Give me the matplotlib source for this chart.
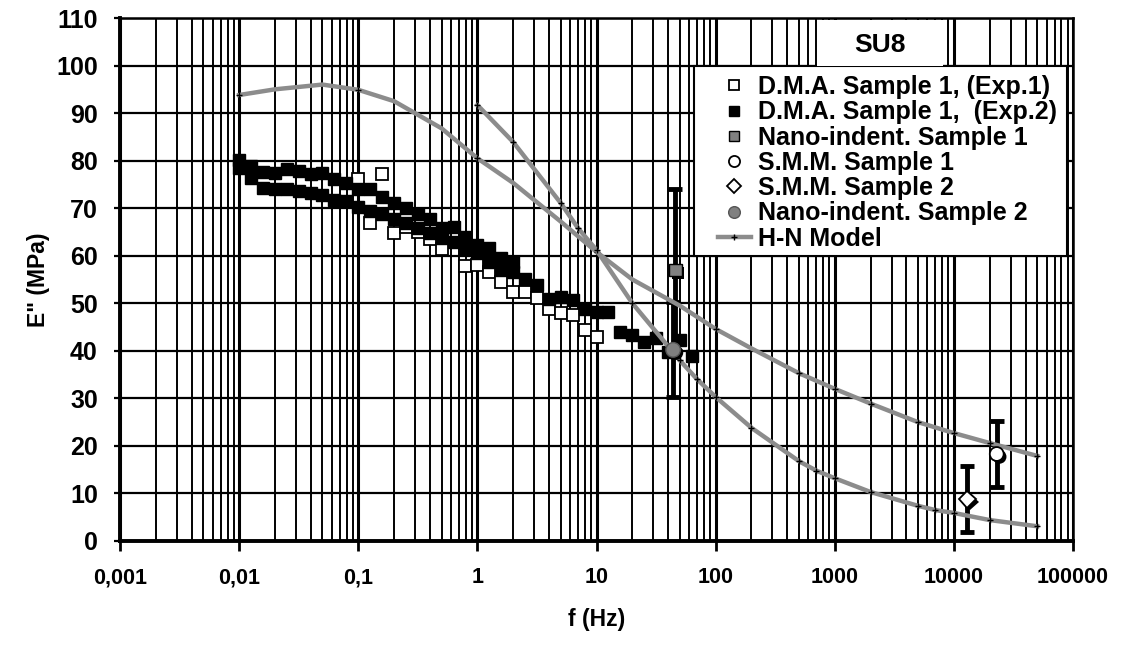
import matplotlib
matplotlib.use("Agg")
import matplotlib.pyplot as plt
import matplotlib.patheffects as pe
from matplotlib.patches import Rectangle
from matplotlib.ticker import FixedLocator, FixedFormatter, LogLocator, NullFormatter

plt.rcParams['font.family'] = ['Liberation Sans', 'DejaVu Sans']
plt.rcParams['font.weight'] = 'bold'

# D.M.A. Sample 1, (Exp.2) - black squares (two bands + high-frequency tail)
dma2_f = [0.01, 0.0126, 0.0158, 0.02, 0.0251, 0.0316, 0.0398, 0.0501, 0.0631, 0.0794,
          0.1, 0.126, 0.158, 0.2, 0.251, 0.316, 0.398, 0.501, 0.631, 0.794,
          1, 1.26, 1.58, 2, 2.51, 3.16, 3.98, 5.01, 6.31, 7.94, 10, 12.6,
          0.01, 0.0126, 0.0158, 0.02, 0.0251, 0.0316, 0.0398, 0.0501, 0.0631, 0.0794,
          0.1, 0.126, 0.158, 0.2, 0.251, 0.316, 0.398, 0.501, 0.631, 0.794,
          1, 1.26, 1.58, 2,
          15.8, 20, 25, 31.6, 40, 50, 63]
dma2_e = [80.1, 78.9, 77.7, 77.5, 78.2, 77.9, 77.2, 77.3, 76.1, 75.4,
          74.0, 74.0, 72.3, 71.0, 70.0, 68.8, 67.7, 65.8, 66.1, 63.9,
          62.2, 61.6, 59.5, 58.7, 55.2, 53.8, 51.0, 51.4, 50.7, 48.9, 48.2, 48.2,
          78.4, 76.3, 74.2, 74.1, 74.1, 73.7, 73.2, 72.7, 71.8, 71.5,
          70.2, 69.5, 68.8, 67.8, 66.8, 65.8, 64.8, 63.8, 62.8, 61.5,
          60.5, 58.7, 57.1, 56.6,
          44.0, 43.3, 41.9, 42.8, 39.8, 42.3, 38.9]

# D.M.A. Sample 1, (Exp.1) - white squares
dma1_f = [0.1, 0.126, 0.158, 0.2, 0.251, 0.316, 0.398, 0.501, 0.794, 1.0,
          1.26, 1.58, 2.0, 2.51, 3.16, 3.98, 5.01, 6.31, 7.94, 10]
dma1_e = [76.1, 66.8, 77.1, 64.7, 66.0, 65.0, 63.5, 61.5, 57.8, 58.0,
          56.6, 54.5, 52.4, 52.4, 51.2, 48.9, 47.9, 47.5, 44.4, 43.0]

# single points with error bars
nano1_f, nano1_e, nano1_err = [46], [57], [17]
nano2_f, nano2_e, nano2_err = [44], [40.2], [10]
smm1_f, smm1_e, smm1_err = [22900], [18.3], [7]
smm2_f, smm2_e, smm2_err = [13000], [8.8], [7]

# H-N model curves
hn1_f = [0.01, 0.02, 0.05, 0.1, 0.2, 0.5, 1, 2, 5, 10, 20, 50, 100, 200, 500,
         1000, 2000, 5000, 10000, 20000, 50000]
hn1_e = [93.8, 95.0, 96.0, 94.9, 92.5, 86.8, 80.5, 75.3, 67.2, 60.8, 55.0, 49.5,
         44.6, 40.5, 35.3, 32.0, 28.9, 25.0, 22.7, 20.6, 17.9]
hn1_marks = [0, 3, 6, 9, 12, 14, 15, 16, 17, 18, 19, 20]

hn2_f = [1, 2, 5, 7, 10, 20, 50, 70, 100, 200, 500, 700, 1000, 2000, 5000, 7000,
         10000, 20000, 50000]
hn2_e = [91.7, 83.9, 71.1, 65.8, 61.2, 50.0, 38.0, 34.0, 30.3, 23.8, 16.8, 14.8,
         13.2, 10.3, 7.4, 6.5, 5.9, 4.4, 3.1]

x_ticks = [0.001, 0.01, 0.1, 1, 10, 100, 1000, 10000, 100000]
x_labels = ["0,001", "0,01", "0,1", "1", "10", "100", "1000", "10000", "100000"]
y_ticks = list(range(0, 111, 10))

GRAY_LINE = "#8c8c8c"
GRAY_FILL = "#808080"
W, H = 1124, 646
shadow = [pe.SimplePatchShadow(offset=(2, -2), shadow_rgbFace="black", alpha=1.0), pe.Normal()]

fig = plt.figure(figsize=(W / 100, H / 100), dpi=100)
ax = fig.add_axes([120 / W, 1 - 541 / H, (1073 - 120) / W, (541 - 18) / H])
ax.set_xscale("log")
ax.set_xlim(0.001, 100000)
ax.set_ylim(0, 110)

# grid
ax.xaxis.set_major_locator(FixedLocator(x_ticks))
ax.xaxis.set_major_formatter(FixedFormatter(x_labels))
ax.xaxis.set_minor_locator(LogLocator(base=10, subs=range(2, 10), numticks=20))
ax.xaxis.set_minor_formatter(NullFormatter())
ax.set_yticks(y_ticks)
ax.grid(True, which="major", axis="x", color="black", lw=2.2)
ax.grid(True, which="minor", axis="x", color="black", lw=1.4)
ax.grid(True, which="major", axis="y", color="black", lw=1.6)
ax.set_axisbelow(True)
ax.tick_params(axis="x", which="major", direction="out", length=7, width=2, pad=12, labelsize=15.5)
ax.tick_params(axis="x", which="minor", length=0)
ax.tick_params(axis="y", direction="out", length=4, width=1.6, pad=12, labelsize=18)
for s in ax.spines.values():
    s.set_linewidth(1.8)
ax.spines["left"].set_linewidth(2.8)
ax.spines["bottom"].set_linewidth(2.8)

# error bars
for f, e, err in [(nano1_f, nano1_e, nano1_err), (nano2_f, nano2_e, nano2_err),
                  (smm1_f, smm1_e, smm1_err), (smm2_f, smm2_e, smm2_err)]:
    ax.errorbar(f, e, yerr=err, fmt="none", ecolor="black", elinewidth=3.5,
                capsize=5, capthick=3.5, zorder=3)

ax.plot(dma1_f, dma1_e, ls="none", marker="s", ms=9, mfc="white", mec="black",
        mew=1.3, label="D.M.A. Sample 1, (Exp.1)", zorder=4)
ax.plot(dma2_f, dma2_e, ls="none", marker="s", ms=9, mfc="black", mec="black",
        mew=1.0, label="D.M.A. Sample 1,  (Exp.2)", zorder=4)

ax.plot(hn1_f, hn1_e, color=GRAY_LINE, lw=3.2, marker="+", ms=5, mec="black", mew=1.0,
        markevery=hn1_marks, label="H-N Model", zorder=5)
ax.plot(hn2_f, hn2_e, color=GRAY_LINE, lw=3.2, marker="+", ms=5, mec="black", mew=1.0,
        zorder=5)

ax.plot(nano1_f, nano1_e, ls="none", marker="s", ms=9, mfc=GRAY_FILL, mec="black", mew=1.0,
        label="Nano-indent. Sample 1", zorder=6, path_effects=shadow)
ax.plot(smm1_f, smm1_e, ls="none", marker="o", ms=10, mfc="white", mec="black", mew=1.3,
        label="S.M.M. Sample 1", zorder=6, path_effects=shadow)
ax.plot(smm2_f, smm2_e, ls="none", marker="D", ms=8.5, mfc="white", mec="black", mew=1.3,
        label="S.M.M. Sample 2", zorder=6, path_effects=shadow)
ax.plot(nano2_f, nano2_e, ls="none", marker="o", ms=10.5, mfc=GRAY_FILL, mec="#555555", mew=1.0,
        label="Nano-indent. Sample 2", zorder=6, path_effects=shadow)

# legend frame and SU8 box drawn as plain rectangles
ax.add_patch(Rectangle((694 / W, 1 - 256 / H), 373 / W, 190 / H, transform=fig.transFigure,
                       fc="white", ec="black", lw=1.5, clip_on=False, zorder=9))
ax.add_patch(Rectangle((817 / W, 1 - 66 / H), 126 / W, 46 / H, transform=fig.transFigure,
                       fc="white", ec="none", clip_on=False, zorder=9))
ax.text(880 / W, 1 - 45 / H, "SU8", transform=fig.transFigure, ha="center", va="center",
        fontsize=19, fontweight="bold", zorder=11)

handles, labels = ax.get_legend_handles_labels()
order = ["D.M.A. Sample 1, (Exp.1)", "D.M.A. Sample 1,  (Exp.2)", "Nano-indent. Sample 1",
         "S.M.M. Sample 1", "S.M.M. Sample 2", "Nano-indent. Sample 2", "H-N Model"]
hmap = dict(zip(labels, handles))
leg = ax.legend([hmap[k] for k in order], order, loc="upper left",
                bbox_to_anchor=(718 / W, 1 - 75 / H), bbox_transform=fig.transFigure,
                frameon=False, prop={"size": 18, "weight": "bold"}, markerscale=0.8,
                handlelength=1.3, handletextpad=0.3, labelspacing=0.05,
                borderpad=0, borderaxespad=0)
leg.set_zorder(10)
for h in leg.legend_handles:
    h.set_path_effects([])

ax.set_xlabel("f (Hz)", fontsize=16.5, fontweight="bold", labelpad=14)
ax.set_ylabel('E" (MPa)', fontsize=16.5, fontweight="bold", labelpad=4)

fig.savefig("out.png", dpi=100)
